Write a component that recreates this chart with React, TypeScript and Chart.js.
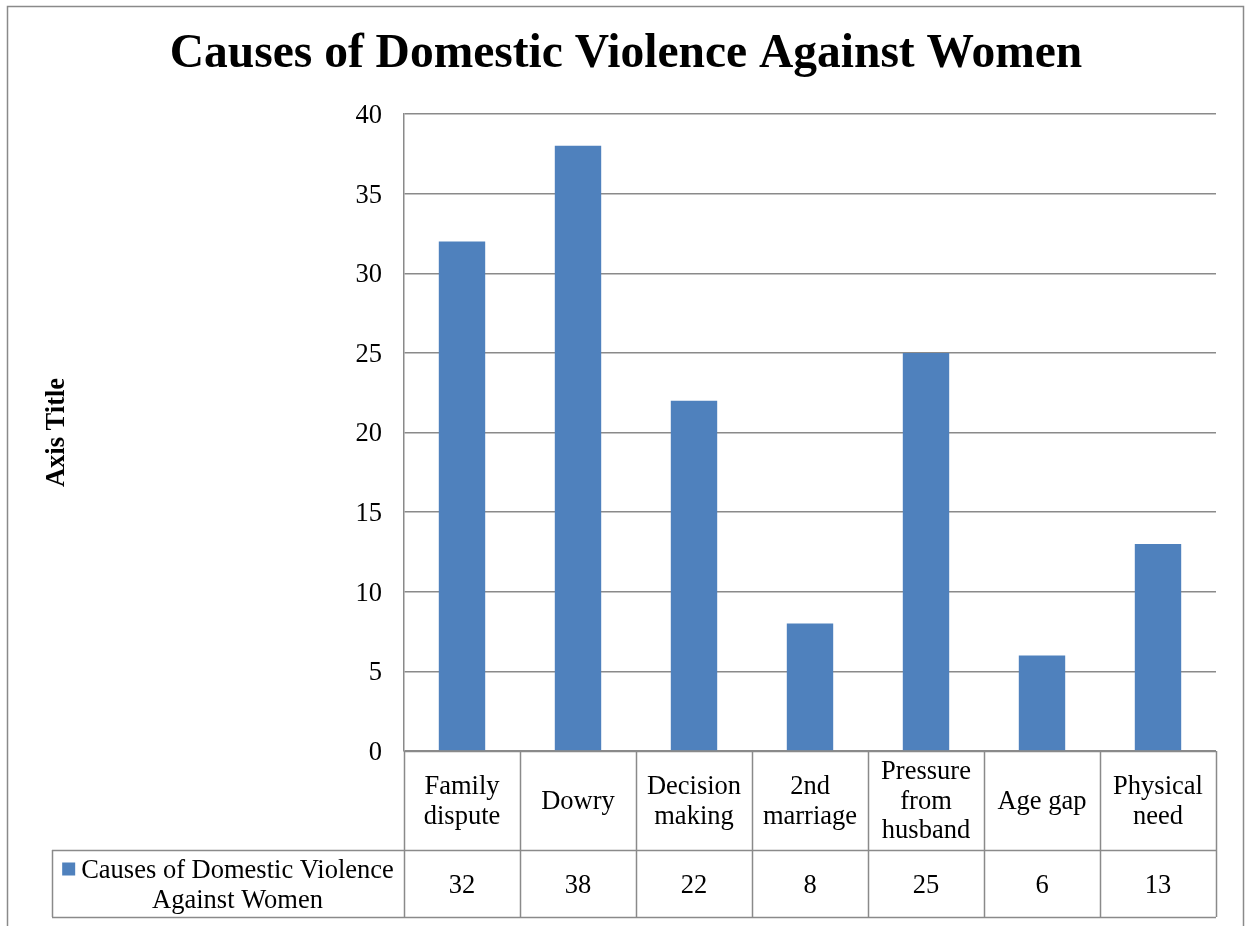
import React, { useEffect, useRef } from "react";
import { Chart, registerables } from "chart.js";

Chart.register(...registerables);

// ---- data ----
const CHART_TITLE = "Causes of Domestic Violence Against Women";
const SERIES_NAME = "Causes of Domestic Violence Against Women";
const LEGEND_LINES = ["Causes of Domestic Violence", "Against Women"];
const AXIS_TITLE = "Axis Title";
const CATEGORY_LINES: string[][] = [
  ["Family", "dispute"],
  ["Dowry"],
  ["Decision", "making"],
  ["2nd", "marriage"],
  ["Pressure", "from", "husband"],
  ["Age gap"],
  ["Physical", "need"],
];
const VALUES = [32, 38, 22, 8, 25, 6, 13];
const Y_MIN = 0;
const Y_MAX = 40;
const Y_STEP = 5;

const SERIF = "'Liberation Serif', 'Times New Roman', serif";
const BAR_COLOR = "#4F81BD";
const LINE_COLOR = "#8a8a8a";
const TEXT_SIZE = 26.5;

// Frame, title and the data table under the plot area
const tablePlugin = {
  id: "dataTable",
  beforeDraw(chart: Chart) {
    const ctx = chart.ctx;
    ctx.save();
    ctx.fillStyle = "#ffffff";
    ctx.fillRect(0, 0, chart.width, chart.height);
    ctx.strokeStyle = LINE_COLOR;
    ctx.lineWidth = 1.5;
    ctx.strokeRect(7.5, 6.5, chart.width - 9, chart.height + 50);
    ctx.restore();
  },
  afterDraw(chart: Chart) {
    const ctx = chart.ctx;
    const area = chart.chartArea;
    const xs = chart.scales.x;
    const n = CATEGORY_LINES.length;
    const colW = (area.right - area.left) / n;
    const headTop = area.bottom;
    const headBottom = headTop + 99;
    const valBottom = headBottom + 67;
    const legendLeft = 52;

    ctx.save();
    // title
    ctx.fillStyle = "#000";
    ctx.font = `bold 47.5px ${SERIF}`;
    ctx.textAlign = "center";
    ctx.textBaseline = "middle";
    ctx.fillText(CHART_TITLE, 626, 55);

    // grid of the table
    ctx.strokeStyle = LINE_COLOR;
    ctx.lineWidth = 1.5;
    const h = (x1: number, x2: number, y: number) => {
      ctx.beginPath();
      ctx.moveTo(x1, y);
      ctx.lineTo(x2, y);
      ctx.stroke();
    };
    const v = (x: number, y1: number, y2: number) => {
      ctx.beginPath();
      ctx.moveTo(x, y1);
      ctx.lineTo(x, y2);
      ctx.stroke();
    };
    h(area.left, area.right, headTop + 0.5);
    h(legendLeft, area.right, headBottom + 0.5);
    h(legendLeft, area.right, valBottom + 0.5);
    v(legendLeft + 0.5, headBottom, valBottom);
    for (let i = 0; i <= n; i++) {
      const x = Math.round(area.left + i * colW) + 0.5;
      v(x, headTop, valBottom);
    }

    // category headers and values
    ctx.font = `${TEXT_SIZE}px ${SERIF}`;
    ctx.fillStyle = "#000";
    const headMid = (headTop + headBottom) / 2 + 1.5;
    const valMid = (headBottom + valBottom) / 2 + 2.5;
    const lh = 29.5;
    CATEGORY_LINES.forEach((lines, i) => {
      const cx = xs.getPixelForValue(i);
      const y0 = headMid - ((lines.length - 1) * lh) / 2;
      lines.forEach((t, k) => ctx.fillText(t, cx, y0 + k * lh));
      ctx.fillText(String(VALUES[i]), cx, valMid);
    });

    // legend key inside the first cell
    const cellMid = (legendLeft + area.left) / 2;
    const l1 = ctx.measureText(LEGEND_LINES[0]).width;
    const keySize = 13;
    const gap = 6;
    const blockW = keySize + gap + l1;
    const bx = cellMid - blockW / 2;
    const y1 = valMid - 15;
    const y2 = valMid + 15;
    ctx.fillStyle = BAR_COLOR;
    ctx.fillRect(bx, y1 - keySize / 2 - 2, keySize, keySize);
    ctx.fillStyle = "#000";
    ctx.textAlign = "left";
    ctx.fillText(LEGEND_LINES[0], bx + keySize + gap, y1);
    ctx.textAlign = "center";
    ctx.fillText(LEGEND_LINES[1], cellMid + (keySize + gap) / 2, y2);
    ctx.restore();
  },
};

export default function App() {
  const canvasRef = useRef<HTMLCanvasElement>(null);

  useEffect(() => {
    const canvas = canvasRef.current;
    if (!canvas) return;
    const chart = new Chart(canvas, {
      type: "bar",
      data: {
        labels: CATEGORY_LINES,
        datasets: [
          {
            label: SERIES_NAME,
            data: VALUES,
            backgroundColor: BAR_COLOR,
            borderWidth: 0,
            categoryPercentage: 1,
            barPercentage: 0.4,
          },
        ],
      },
      options: {
        responsive: false,
        animation: false,
        devicePixelRatio: 1,
        layout: { padding: { top: 114, bottom: 175, left: 37, right: 29 } },
        plugins: {
          legend: { display: false },
          tooltip: { enabled: false },
          title: { display: false },
        },
        scales: {
          x: {
            display: false,
          },
          y: {
            min: Y_MIN,
            max: Y_MAX,
            afterFit: (s: any) => {
              s.width = 367;
            },
            ticks: {
              stepSize: Y_STEP,
              color: "#000",
              padding: 22,
              labelOffset: 2,
              font: { family: SERIF, size: TEXT_SIZE },
            },
            grid: {
              color: LINE_COLOR,
              lineWidth: 1.5,
              drawTicks: false,
            },
            border: { display: true, color: LINE_COLOR, width: 1.5 },
            title: {
              display: true,
              text: AXIS_TITLE,
              color: "#000",
              font: { family: SERIF, size: TEXT_SIZE, weight: "bold" },
            },
          },
        },
      },
      plugins: [tablePlugin],
    });
    return () => chart.destroy();
  }, []);

  return (
    <div style={{ position: "fixed", left: 0, top: 0, width: 1245, height: 926, background: "#fff" }}>
      <canvas ref={canvasRef} width={1245} height={926} style={{ width: 1245, height: 926, display: "block" }} />
    </div>
  );
}
